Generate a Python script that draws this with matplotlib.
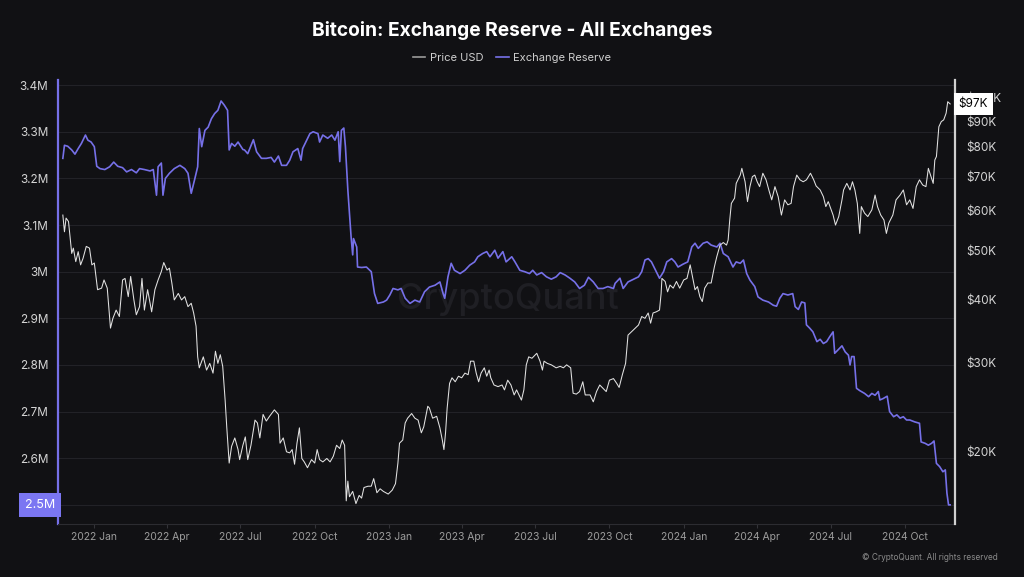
import pandas as pd
import matplotlib
matplotlib.use('Agg')
import matplotlib.pyplot as plt
import matplotlib.dates as mdates
from matplotlib.ticker import FixedLocator, FuncFormatter, NullLocator
from matplotlib.lines import Line2D

plt.rcParams['font.family'] = ['Inter', 'DejaVu Sans']

# exchange reserve (BTC, millions), x = days since 2022-01-01
res_days = [-39, -37, -33, -28, -24, -20, -16, -11, -8, -4,
            0, 3, 7, 13, 19, 24, 29, 35, 40, 46,
            52, 56, 62, 69, 73, 77, 79, 83, 85, 88,
            93, 99, 106, 112, 116, 120, 124, 128, 130, 133,
            137, 141, 145, 149, 153, 157, 161, 165, 167, 170,
            174, 178, 184, 186, 190, 197, 201, 207, 213, 219,
            223, 228, 232, 238, 242, 246, 252, 256, 258, 263,
            267, 271, 277, 279, 283, 289, 294, 298, 302, 304,
            306, 309, 311, 314, 318, 320, 321, 325, 326, 331,
            337, 343, 347, 351, 358, 362, 366, 370, 376, 380,
            385, 391, 397, 403, 409, 415, 422, 428, 432, 434,
            438, 442, 446, 453, 459, 465, 471, 475, 481, 486,
            490, 496, 500, 506, 510, 517, 521, 527, 533, 539,
            543, 548, 554, 560, 566, 572, 577, 583, 589, 595,
            601, 607, 612, 618, 624, 630, 636, 643, 645, 651,
            655, 661, 667, 674, 678, 682, 686, 690, 694, 700,
            705, 709, 715, 719, 723, 729, 735, 740, 744, 748,
            754, 759, 764, 771, 775, 779, 785, 791, 795, 800,
            804, 808, 812, 818, 822, 828, 835, 841, 845, 849,
            853, 859, 865, 868, 872, 876, 880, 882, 886, 890,
            895, 899, 903, 907, 911, 915, 917, 921, 926, 930,
            934, 936, 938, 941, 944, 948, 954, 959, 963, 967,
            971, 973, 977, 982, 985, 990, 994, 998, 1002, 1006,
            1010, 1016, 1022, 1024, 1029, 1033, 1037, 1040, 1043, 1047,
            1051, 1054, 1056, 1058, 1060]
res_vals = [3.243, 3.271, 3.269, 3.261, 3.252, 3.264, 3.275, 3.293, 3.282, 3.278,
            3.268, 3.226, 3.221, 3.219, 3.225, 3.235, 3.226, 3.223, 3.214, 3.219,
            3.212, 3.221, 3.219, 3.216, 3.219, 3.164, 3.225, 3.233, 3.164, 3.200,
            3.211, 3.221, 3.228, 3.221, 3.211, 3.168, 3.196, 3.225, 3.307, 3.268,
            3.303, 3.310, 3.328, 3.339, 3.346, 3.366, 3.357, 3.346, 3.261, 3.275,
            3.269, 3.278, 3.262, 3.261, 3.253, 3.283, 3.257, 3.243, 3.243, 3.245,
            3.235, 3.248, 3.228, 3.228, 3.239, 3.257, 3.264, 3.239, 3.264, 3.282,
            3.296, 3.300, 3.296, 3.278, 3.293, 3.286, 3.293, 3.282, 3.300, 3.236,
            3.303, 3.308, 3.268, 3.175, 3.075, 3.036, 3.071, 3.053, 3.010, 3.009,
            3.010, 3.000, 2.953, 2.932, 2.935, 2.939, 2.950, 2.964, 2.961, 2.964,
            2.943, 2.932, 2.939, 2.935, 2.957, 2.967, 2.971, 2.978, 2.953, 2.943,
            2.989, 3.018, 3.003, 2.996, 3.003, 3.014, 3.021, 3.032, 3.039, 3.043,
            3.032, 3.046, 3.029, 3.043, 3.021, 3.032, 3.021, 3.003, 3.000, 2.996,
            3.003, 2.993, 2.998, 2.989, 2.984, 2.989, 2.998, 2.993, 2.986, 2.978,
            2.964, 2.971, 2.988, 2.978, 2.964, 2.964, 2.968, 2.964, 2.975, 2.986,
            2.964, 2.978, 2.983, 2.989, 3.000, 3.025, 3.028, 3.021, 3.007, 2.986,
            3.000, 3.021, 3.028, 3.021, 3.010, 3.016, 3.021, 3.053, 3.061, 3.050,
            3.061, 3.064, 3.057, 3.053, 3.061, 3.039, 3.032, 3.010, 3.021, 3.018,
            3.025, 2.996, 2.982, 2.968, 2.946, 2.939, 2.935, 2.928, 2.926, 2.943,
            2.953, 2.950, 2.953, 2.925, 2.919, 2.935, 2.933, 2.886, 2.879, 2.871,
            2.850, 2.855, 2.846, 2.850, 2.861, 2.871, 2.825, 2.832, 2.841, 2.828,
            2.821, 2.800, 2.818, 2.818, 2.750, 2.745, 2.739, 2.732, 2.739, 2.735,
            2.743, 2.725, 2.728, 2.733, 2.700, 2.689, 2.693, 2.686, 2.689, 2.682,
            2.682, 2.678, 2.675, 2.635, 2.632, 2.628, 2.632, 2.637, 2.589, 2.582,
            2.571, 2.575, 2.525, 2.500, 2.500]

# bitcoin price (USD, thousands), x = days since 2022-01-01
price_days = [-39, -37, -35, -32, -28, -26, -23, -20, -17, -14,
              -10, -6, -3, 0, 4, 9, 12, 16, 20, 23,
              27, 31, 35, 38, 42, 45, 49, 52, 56, 59,
              62, 66, 71, 75, 79, 83, 86, 90, 93, 96,
              99, 104, 108, 112, 116, 120, 123, 126, 128, 130,
              135, 139, 143, 147, 150, 153, 156, 159, 162, 164,
              167, 170, 174, 178, 180, 184, 187, 190, 194, 199,
              202, 205, 209, 213, 217, 223, 228, 230, 234, 238,
              242, 245, 248, 251, 254, 257, 260, 264, 269, 273,
              276, 279, 283, 288, 292, 296, 300, 304, 307, 310,
              312, 314, 316, 320, 324, 328, 331, 334, 339, 343,
              346, 350, 354, 358, 364, 369, 373, 376, 378, 382,
              385, 388, 393, 397, 401, 405, 408, 413, 415, 419,
              424, 428, 431, 433, 435, 437, 440, 443, 447, 451,
              455, 459, 463, 466, 470, 473, 476, 479, 483, 486,
              489, 491, 495, 500, 505, 508, 512, 516, 520, 523,
              526, 529, 532, 535, 538, 542, 548, 552, 555, 557,
              561, 566, 572, 577, 581, 585, 590, 593, 597, 601,
              605, 608, 614, 618, 622, 626, 630, 634, 638, 643,
              647, 650, 654, 658, 661, 666, 670, 674, 678, 682,
              686, 689, 692, 696, 700, 702, 703, 707, 710, 713,
              717, 721, 725, 730, 734, 738, 740, 744, 747, 750,
              753, 756, 760, 764, 768, 771, 775, 779, 783, 785,
              787, 789, 793, 795, 800, 802, 806, 809, 812, 815,
              818, 821, 824, 828, 832, 836, 839, 843, 847, 851,
              855, 859, 863, 866, 870, 874, 878, 882, 887, 891,
              894, 899, 903, 906, 909, 912, 915, 918, 922, 926,
              928, 932, 936, 939, 942, 945, 948, 950, 954, 958,
              963, 967, 970, 974, 978, 981, 984, 989, 993, 998,
              1002, 1006, 1010, 1014, 1018, 1022, 1026, 1030, 1033, 1037,
              1039, 1041, 1043, 1046, 1049, 1052, 1055, 1057, 1060]
price_vals = [58.7, 54.4, 57.9, 57.0, 49.3, 50.5, 47.5, 49.7, 46.8, 48.2,
              50.9, 50.5, 46.8, 47.2, 41.8, 42.1, 43.7, 42.1, 35.1, 36.7,
              38.1, 37.0, 43.7, 44.0, 40.5, 44.4, 39.9, 37.3, 38.7, 44.0,
              38.1, 41.8, 37.8, 41.8, 43.7, 45.4, 47.3, 45.7, 46.1, 43.1,
              39.9, 41.1, 39.9, 40.5, 38.7, 39.3, 37.6, 35.4, 30.8, 29.3,
              30.8, 29.0, 29.9, 28.6, 31.6, 29.9, 31.1, 29.5, 25.3, 22.4,
              19.0, 20.5, 21.3, 20.2, 19.3, 20.6, 21.4, 19.3, 20.6, 23.1,
              22.8, 21.3, 23.7, 23.0, 23.5, 24.2, 23.7, 20.8, 21.3, 20.0,
              19.9, 20.2, 18.9, 20.8, 22.3, 19.4, 19.1, 18.6, 19.3, 19.0,
              20.2, 19.3, 19.1, 19.4, 19.1, 19.6, 20.6, 20.3, 21.1, 20.6,
              16.0, 17.5, 16.3, 16.7, 15.8, 16.4, 16.2, 17.0, 17.1, 17.1,
              17.7, 16.6, 16.9, 16.7, 16.5, 16.8, 17.3, 19.0, 20.8, 21.1,
              22.8, 23.3, 23.8, 23.3, 23.1, 21.8, 22.4, 24.6, 24.4, 23.3,
              23.5, 22.3, 21.1, 20.2, 21.8, 24.4, 27.3, 28.0, 27.5, 28.2,
              28.0, 28.6, 28.4, 30.2, 30.2, 28.6, 27.5, 28.6, 29.3, 28.2,
              29.0, 28.0, 27.1, 26.9, 27.1, 26.5, 27.7, 27.1, 25.9, 26.5,
              25.9, 25.3, 26.5, 29.7, 30.8, 30.6, 31.3, 30.2, 29.0, 30.2,
              29.9, 29.7, 29.3, 29.5, 29.3, 29.7, 29.3, 26.1, 26.0, 26.3,
              27.5, 25.9, 25.9, 25.1, 26.3, 27.1, 26.7, 26.3, 27.7, 27.9,
              27.3, 26.8, 28.4, 29.9, 34.0, 34.6, 35.1, 35.6, 37.0, 36.7,
              37.6, 35.9, 37.6, 37.8, 38.1, 41.1, 44.0, 43.4, 41.4, 42.7,
              42.1, 43.4, 42.1, 43.7, 44.0, 46.8, 45.1, 41.8, 42.4, 40.5,
              39.6, 42.1, 43.1, 43.1, 46.4, 48.6, 51.2, 51.8, 51.2, 52.4,
              57.4, 61.9, 63.4, 67.8, 70.4, 72.6, 68.3, 62.4, 66.8, 69.9,
              70.4, 68.3, 66.8, 71.0, 68.9, 65.3, 62.9, 66.8, 63.8, 58.7,
              62.9, 61.5, 61.9, 66.8, 70.4, 68.9, 68.3, 68.9, 71.0, 68.9,
              67.0, 65.8, 63.8, 61.0, 62.4, 60.5, 58.7, 56.1, 58.3, 62.9,
              65.8, 67.8, 65.8, 68.3, 65.8, 61.9, 54.0, 61.0, 59.2, 58.3,
              60.1, 64.3, 61.0, 58.7, 57.4, 54.0, 56.6, 58.7, 62.9, 64.3,
              65.8, 61.5, 62.9, 60.5, 66.8, 68.9, 67.3, 66.8, 72.6, 69.4,
              67.8, 75.4, 76.6, 87.7, 89.8, 90.5, 93.3, 98.3, 97.3]

res_ticks = [2.5, 2.6, 2.7, 2.8, 2.9, 3.0, 3.1, 3.2, 3.3, 3.4]
price_ticks = [20, 30, 40, 50, 60, 70, 80, 90, 100]

BG = '#111114'
PURPLE = '#7670e8'
WHITE_LINE = '#e2e2e2'

base = pd.Timestamp('2022-01-01')
res_dates = base + pd.to_timedelta(res_days, unit='D')
price_dates = base + pd.to_timedelta(price_days, unit='D')
res = [v * 1e6 for v in res_vals]
price = [v * 1e3 for v in price_vals]

fig = plt.figure(figsize=(10.24, 5.77), dpi=100, facecolor=BG)
ax = fig.add_axes([58 / 1024, 1 - 524 / 577, 897 / 1024, 444 / 577])
ax.set_facecolor(BG)
ax2 = ax.twinx()

# reserve on the left axis, price on a log right axis
ax.plot(res_dates, res, color=PURPLE, lw=1.2, zorder=3)
ax2.plot(price_dates, price, color=WHITE_LINE, lw=0.75, zorder=3)

ax.set_xlim(base + pd.Timedelta(days=-45), base + pd.Timedelta(days=1066))
ax.set_ylim(2.459e6, 3.411e6)
ax2.set_yscale('log')
ax2.set_ylim(14.4e3, 108.5e3)

ax.yaxis.set_major_locator(FixedLocator([v * 1e6 for v in res_ticks]))
ax.yaxis.set_major_formatter(FuncFormatter(lambda v, p: f'{v / 1e6:g}M'))
ax2.yaxis.set_major_locator(FixedLocator([v * 1e3 for v in price_ticks]))
ax2.yaxis.set_major_formatter(FuncFormatter(lambda v, p: f'${v / 1e3:.0f}K'))
ax2.yaxis.set_minor_locator(NullLocator())

ax.xaxis.set_major_locator(mdates.MonthLocator(bymonth=[1, 4, 7, 10]))
ax.xaxis.set_major_formatter(mdates.DateFormatter('%Y %b'))

ax.grid(axis='y', color='#222227', lw=0.8)
ax.tick_params(axis='y', length=0, pad=7, labelsize=8.5, labelcolor='#d4d4d4')
ax2.tick_params(axis='y', length=0, pad=8, labelsize=8.5, labelcolor='#d4d4d4')
ax.tick_params(axis='x', length=3, width=0.8, color='#333338', pad=3,
               labelsize=7.5, labelcolor='#9c9c9c')

for a in (ax, ax2):
    a.spines['top'].set_visible(False)
ax.spines['right'].set_visible(False)
ax.spines['left'].set_color(PURPLE)
ax.spines['left'].set_linewidth(1.6)
ax.spines['bottom'].set_color('#2c2c31')
ax2.spines['left'].set_visible(False)
ax2.spines['bottom'].set_visible(False)
ax2.spines['right'].set_color('#d0d0d0')
ax2.spines['right'].set_linewidth(1.6)

# watermark
ax.text(0.502, 0.505, 'CryptoQuant', transform=ax.transAxes, ha='center', va='center',
        fontsize=26, color='#1f1f24', fontweight='medium', zorder=1)

# last value boxes on both axes, drawn over the tick labels they sit on
ax.text(-0.003, res[-1], f'{res_vals[-1]:g}M', transform=ax.get_yaxis_transform(),
        ha='right', va='center', fontsize=9, color='white', zorder=10, clip_on=False,
        bbox=dict(boxstyle='square,pad=0.45', fc='#7b76f2', ec='none'))
ax2.text(1.004, price[-1], f'${price_vals[-1]:.0f}K', transform=ax2.get_yaxis_transform(),
         ha='left', va='center', fontsize=8.5, color='black', zorder=10, clip_on=False,
         bbox=dict(boxstyle='square,pad=0.4', fc='white', ec='none'))

fig.text(0.5, 1 - 30 / 577, 'Bitcoin: Exchange Reserve - All Exchanges', ha='center',
         va='center', fontsize=13.8, fontweight='bold', color='white')

handles = [Line2D([], [], color='#9a9a9a', lw=1.2),
           Line2D([], [], color=PURPLE, lw=1.2)]
fig.legend(handles, ['Price USD', 'Exchange Reserve'], loc='center',
           bbox_to_anchor=(0.5, 1 - 58 / 577), ncol=2, frameon=False, fontsize=8,
           labelcolor='#cfcfcf', handlelength=1.1, handletextpad=0.4, columnspacing=1.2)

fig.text(998 / 1024, 1 - 558 / 577, '\u00a9 CryptoQuant. All rights reserved', ha='right',
         va='center', fontsize=6, color='#8a8a8a')

fig.savefig('out.png', dpi=100, facecolor=BG)
